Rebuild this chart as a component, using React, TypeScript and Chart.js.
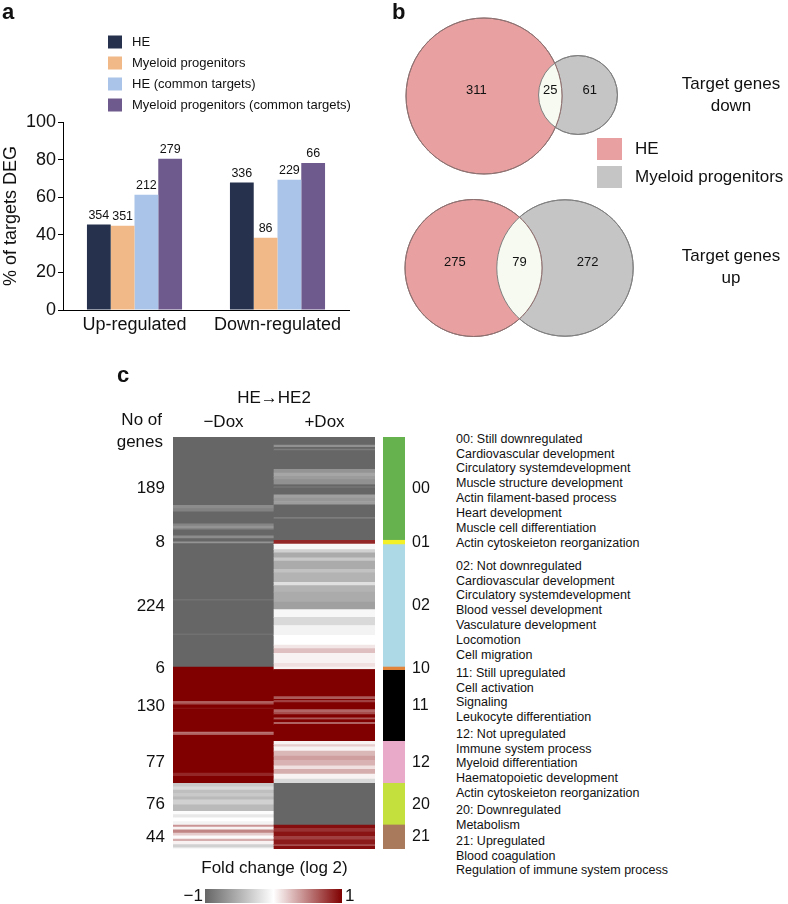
import React, { useEffect, useRef } from 'react';
import { Chart, registerables } from 'chart.js';
Chart.register(...registerables);

const FONT = '"Liberation Sans", Arial, Helvetica, sans-serif';
Chart.defaults.font.family = FONT;
Chart.defaults.color = '#111';

// ---------- Panel a data ----------
const BAR_CATEGORIES = ['Up-regulated', 'Down-regulated'];
const BAR_SERIES = ['HE', 'Myeloid progenitors', 'HE (common targets)', 'Myeloid progenitors (common targets)'];
const PCT_HE = [45.5, 67.8];
const PCT_MYELOID = [44.8, 38.4];
const PCT_HE_COMMON = [61.3, 69.3];
const PCT_MYELOID_COMMON = [80.5, 78.2];
const N_HE = [354, 336];
const N_MYELOID = [351, 86];
const N_HE_COMMON = [212, 229];
const N_MYELOID_COMMON = [279, 66];
const BAR_COLORS = ['#26324D', '#F0B987', '#AAC3E8', '#6E5A8C'];

// ---------- Panel b data ----------
const VENN_SETS = ['HE', 'Myeloid progenitors'];
const VENN_TITLES = [['Target genes', 'down'], ['Target genes', 'up']];
const VENN_HE_ONLY = [311, 275];
const VENN_COMMON = [25, 79];
const VENN_MYELOID_ONLY = [61, 272];
// layout (chart units) for the two diagrams
const VENN_HE_CENTER = [[94, 96], [83.5, 268]];
const VENN_MY_CENTER = [[188, 95], [175, 268]];
const VENN_RADIUS_SCALE = [4.255, 3.641];
const VENN_COLORS = ['#E8A0A0', '#C5C5C5'];
const VENN_EDGES = ['#8E7070', '#808080'];
const VENN_LENS = '#F6FAF1';

// ---------- Panel c data ----------
const CONDITIONS = ['−Dox', '+Dox'];
const CLUSTER_IDS = ['00', '01', '02', '10', '11', '12', '20', '21'];
const CLUSTER_SIZES = [189, 8, 224, 6, 130, 77, 76, 44];
const CLUSTER_COLORS = ['#66B24F', '#F3F027', '#ADD8E6', '#E2843A', '#000000', '#E9A9C9', '#C3E03C', '#A97B5C'];
// [number of genes, log2 fold change] runs, per cluster
const MINUS_DOX_RUNS: [number, number][][] = [
  [[125, -1], [6, -0.75], [6, -0.82], [22, -1], [4, -0.8], [4, -0.7], [3, -0.8], [11, -1], [5, -0.75], [3, -1]],
  [[3, -1], [3, -0.7], [2, -1]],
  [[100, -1], [3, -0.92], [60, -1], [3, -0.93], [58, -1]],
  [[6, 1]],
  [[57, 1], [3, 0.6], [3, 0.7], [6, 1], [2, 0.9], [42, 1], [3, 0.55], [3, 0.65], [11, 1]],
  [[58, 1], [6, 0.85], [13, 1]],
  [[6, -0.35], [6, -0.25], [6, -0.42], [6, -0.35], [6, -0.45], [9, -0.3], [12, -0.45], [6, -0.02], [6, -0.15], [7, 0], [6, -0.08]],
  [[4, 0.42], [5, 0.05], [6, 0.48], [5, 0.2], [6, 0.02], [4, 0.32], [6, 0.05], [6, -0.3], [2, -0.05]],
];
const PLUS_DOX_RUNS: [number, number][][] = [
  [[15, -1], [4, -0.72], [3, -1], [3, -0.85], [34, -1], [7, -0.7], [6, -0.58], [6, -0.65], [9, -0.72], [4, -1], [2, -0.85], [13, -1], [6, -0.62], [6, -0.68], [6, -0.64], [23, -1], [3, -0.85], [39, -1]],
  [[7, 0.85], [1, 0]],
  [[9, -0.05], [6, -0.3], [9, -0.55], [6, -0.35], [15, -0.55], [6, -0.4], [18, -0.5], [6, -0.2], [12, -0.5], [18, -0.55], [14, -0.62], [14, -0.05], [15, -0.25], [18, -0.08], [18, 0], [6, 0.1], [9, 0.25], [18, 0.05], [7, 0.12]],
  [[4, 0.05], [2, 0.9]],
  [[48, 1], [5, 0.65], [2, 1], [4, 0.75], [13, 1], [5, 0.6], [4, 0.7], [6, 1], [3, 0.65], [5, 1], [4, 0.62], [31, 1]],
  [[6, 0.05], [4, 0.2], [8, 0.05], [9, 0.28], [8, 0.38], [10, 0.3], [6, 0.12], [9, 0.32], [9, 0.05], [8, -0.25]],
  [[76, -1]],
  [[6, 0.95], [6, 0.8], [9, 0.92], [6, 0.75], [9, 0.9], [3, 0.7], [5, 0.95]],
];
const TERM_GROUPS: string[][] = [
  ['00: Still downregulated', 'Cardiovascular development', 'Circulatory systemdevelopment', 'Muscle structure development', 'Actin filament-based process', 'Heart development', 'Muscle cell differentiation', 'Actin cytoskeieton reorganization'],
  ['02: Not downregulated', 'Cardiovascular development', 'Circulatory systemdevelopment', 'Blood vessel development', 'Vasculature development', 'Locomotion', 'Cell migration'],
  ['11: Still upregulated', 'Cell activation', 'Signaling', 'Leukocyte differentiation'],
  ['12: Not upregulated', 'Immune system process', 'Myeloid differentiation', 'Haematopoietic development', 'Actin cytoskeieton reorganization'],
  ['20: Downregulated', 'Metabolism'],
  ['21: Upregulated', 'Blood coagulation', 'Regulation of immune system process'],
];
const TERM_GROUP_TOPS = [439, 566, 673, 734, 810, 841];

const GRAY = [102, 102, 102];
const WHITE = [255, 255, 255];
const RED = [128, 0, 0];
function foldColor(v: number) {
  const t = Math.max(-1, Math.min(1, v));
  const end = t < 0 ? GRAY : RED;
  const a = Math.abs(t);
  const c = WHITE.map((w, i) => Math.round(w + (end[i] - w) * a));
  return `rgb(${c[0]},${c[1]},${c[2]})`;
}

const TOTAL_GENES = CLUSTER_SIZES.reduce((a, b) => a + b, 0);
const CLUSTER_STARTS = CLUSTER_SIZES.map((_, i) => CLUSTER_SIZES.slice(0, i).reduce((a, b) => a + b, 0));
const CLUSTER_MIDS = CLUSTER_SIZES.map((n, i) => CLUSTER_STARTS[i] + n / 2);

export default function App() {
  const barRef = useRef<HTMLCanvasElement>(null);
  const vennRef = useRef<HTMLCanvasElement>(null);
  const heatRef = useRef<HTMLCanvasElement>(null);
  const clusterRef = useRef<HTMLCanvasElement>(null);

  useEffect(() => {
    const charts: Chart[] = [];
    const BAR_VALUES = [PCT_HE, PCT_MYELOID, PCT_HE_COMMON, PCT_MYELOID_COMMON];
    const BAR_COUNTS = [N_HE, N_MYELOID, N_HE_COMMON, N_MYELOID_COMMON];

    // ---------- Panel a ----------
    const barDecor = {
      id: 'barDecor',
      afterDatasetsDraw(chart: any) {
        const ctx = chart.ctx;
        const ca = chart.chartArea;
        ctx.save();
        ctx.font = `12.5px ${FONT}`;
        ctx.fillStyle = '#111';
        ctx.textAlign = 'center';
        ctx.textBaseline = 'bottom';
        chart.data.datasets.forEach((_: any, di: number) => {
          chart.getDatasetMeta(di).data.forEach((el: any, i: number) => {
            ctx.fillText(String(BAR_COUNTS[di][i]), el.x, el.y - 3);
          });
        });
        ctx.font = `13px ${FONT}`;
        ctx.textAlign = 'left';
        ctx.textBaseline = 'middle';
        chart.data.datasets.forEach((ds: any, di: number) => {
          const y = ca.top - 80 + di * 21;
          ctx.fillStyle = ds.backgroundColor;
          ctx.fillRect(ca.left + 45, y - 6.5, 14, 13);
          ctx.fillStyle = '#111';
          ctx.fillText(ds.label, ca.left + 69, y);
        });
        ctx.restore();
      },
    };
    charts.push(new Chart(barRef.current!, {
      type: 'bar',
      data: {
        labels: BAR_CATEGORIES,
        datasets: BAR_SERIES.map((s, i) => ({
          label: s,
          data: BAR_VALUES[i],
          backgroundColor: BAR_COLORS[i],
          borderWidth: 0,
          barPercentage: 1,
          categoryPercentage: 0.665,
        })),
      },
      options: {
        animation: false,
        responsive: false,
        layout: { padding: { top: 122, right: 41, bottom: 0, left: 0 } },
        plugins: { legend: { display: false }, tooltip: { enabled: false } },
        scales: {
          x: {
            grid: { display: false, drawTicks: false },
            border: { display: true, color: '#000', width: 1 },
            ticks: { font: { size: 18 }, color: '#111', padding: 4 },
            afterFit: (s: any) => { s.height = 35; },
          },
          y: {
            min: 0, max: 100,
            ticks: { stepSize: 20, font: { size: 18 }, color: '#111', padding: 2 },
            grid: { display: true, drawOnChartArea: false, drawTicks: true, tickLength: 5, color: '#000' },
            border: { display: true, color: '#000', width: 1 },
            title: { display: true, text: '% of targets DEG', font: { size: 18 }, color: '#111', padding: 0 },
            afterFit: (s: any) => { s.width = 63; },
          },
        },
      },
      plugins: [barDecor],
    } as any));

    // ---------- Panel b ----------
    const vennDecor = {
      id: 'vennDecor',
      afterDatasetsDraw(chart: any) {
        const ctx = chart.ctx;
        const a = chart.getDatasetMeta(0).data;
        const b = chart.getDatasetMeta(1).data;
        ctx.save();
        for (let i = 0; i < a.length; i++) {
          const A = a[i], B = b[i];
          const rA = A.options.radius, rB = B.options.radius;
          ctx.save();
          ctx.beginPath(); ctx.arc(A.x, A.y, rA, 0, Math.PI * 2); ctx.clip();
          ctx.beginPath(); ctx.arc(B.x, B.y, rB, 0, Math.PI * 2);
          ctx.fillStyle = VENN_LENS; ctx.fill();
          ctx.restore();
          ctx.lineWidth = 1;
          ctx.strokeStyle = VENN_EDGES[0];
          ctx.beginPath(); ctx.arc(A.x, A.y, rA, 0, Math.PI * 2); ctx.stroke();
          ctx.strokeStyle = VENN_EDGES[1];
          ctx.beginPath(); ctx.arc(B.x, B.y, rB, 0, Math.PI * 2); ctx.stroke();
          ctx.fillStyle = '#111';
          ctx.font = `13px ${FONT}`;
          ctx.textAlign = 'center';
          ctx.textBaseline = 'middle';
          const ly = A.y - 6;
          ctx.fillText(String(VENN_HE_ONLY[i]), ((A.x - rA) + (B.x - rB)) / 2 + 4, ly);
          ctx.fillText(String(VENN_COMMON[i]), ((B.x - rB) + (A.x + rA)) / 2, ly);
          ctx.fillText(String(VENN_MYELOID_ONLY[i]), ((A.x + rA) + (B.x + rB)) / 2, ly);
          ctx.font = `17px ${FONT}`;
          ctx.fillText(VENN_TITLES[i][0], 341, A.y - 12);
          ctx.fillText(VENN_TITLES[i][1], 341, A.y + 10);
        }
        // legend
        ctx.font = `17px ${FONT}`;
        ctx.textAlign = 'left';
        ctx.textBaseline = 'middle';
        chart.data.datasets.forEach((ds: any, di: number) => {
          const y = 149 + di * 28;
          ctx.fillStyle = ds.backgroundColor;
          ctx.fillRect(207, y - 11, 25, 22);
          ctx.fillStyle = '#111';
          ctx.fillText(ds.label, 245, y);
        });
        ctx.restore();
      },
    };
    charts.push(new Chart(vennRef.current!, {
      type: 'bubble',
      data: {
        datasets: [
          {
            label: VENN_SETS[0],
            data: VENN_HE_CENTER.map((p, i) => ({ x: p[0], y: p[1], r: VENN_RADIUS_SCALE[i] * Math.sqrt(VENN_HE_ONLY[i] + VENN_COMMON[i]) })),
            backgroundColor: VENN_COLORS[0], borderColor: VENN_EDGES[0], borderWidth: 1, clip: false,
          },
          {
            label: VENN_SETS[1],
            data: VENN_MY_CENTER.map((p, i) => ({ x: p[0], y: p[1], r: VENN_RADIUS_SCALE[i] * Math.sqrt(VENN_MYELOID_ONLY[i] + VENN_COMMON[i]) })),
            backgroundColor: VENN_COLORS[1], borderColor: VENN_EDGES[1], borderWidth: 1, clip: false,
          },
        ],
      },
      options: {
        animation: false,
        responsive: false,
        layout: { padding: 0, autoPadding: false },
        plugins: { legend: { display: false }, tooltip: { enabled: false } },
        scales: {
          x: { type: 'linear', min: 0, max: 398, display: false },
          y: { type: 'linear', min: 0, max: 345, reverse: true, display: false },
        },
      },
      plugins: [vennDecor],
    } as any));

    // ---------- Panel c: heatmap ----------
    const heatData: any[] = [];
    [MINUS_DOX_RUNS, PLUS_DOX_RUNS].forEach((runsByCluster, ci) => {
      runsByCluster.forEach((runs, k) => {
        let s = CLUSTER_STARTS[k];
        runs.forEach(([n, v]) => {
          heatData.push({ x: CONDITIONS[ci], y: [s, s + n], v });
          s += n;
        });
      });
    });
    const heatDecor = {
      id: 'heatDecor',
      afterDraw(chart: any) {
        const ctx = chart.ctx;
        const ca = chart.chartArea;
        ctx.save();
        ctx.fillStyle = '#111';
        ctx.font = `17px ${FONT}`;
        ctx.textAlign = 'right';
        ctx.textBaseline = 'middle';
        ctx.fillText('No of', ca.left - 11, ca.top - 17);
        ctx.fillText('genes', ca.left - 10, ca.top + 5);
        // colour key
        const x0 = ca.left + 32, x1 = ca.left + 169;
        const y0 = ca.bottom + 40, h = 14;
        const g = ctx.createLinearGradient(x0, 0, x1, 0);
        g.addColorStop(0, foldColor(-1));
        g.addColorStop(0.5, foldColor(0));
        g.addColorStop(1, foldColor(1));
        ctx.fillStyle = g;
        ctx.fillRect(x0, y0, x1 - x0, h);
        ctx.fillStyle = '#111';
        ctx.textAlign = 'center';
        ctx.fillText('Fold change (log 2)', (x0 + x1) / 2 + 1, ca.bottom + 19);
        ctx.textAlign = 'right';
        ctx.fillText('−1', x0 - 2, y0 + h / 2);
        ctx.textAlign = 'left';
        ctx.fillText('1', x1 + 3, y0 + h / 2);
        ctx.restore();
      },
    };
    charts.push(new Chart(heatRef.current!, {
      type: 'bar',
      data: {
        labels: CONDITIONS,
        datasets: [{
          data: heatData,
          backgroundColor: (c: any) => foldColor(c.raw ? c.raw.v : 0),
          borderWidth: 0,
          barPercentage: 1,
          categoryPercentage: 1,
          grouped: false,
        }],
      },
      options: {
        animation: false,
        responsive: false,
        layout: { padding: { left: 0, right: 0, top: 0, bottom: 55 } },
        plugins: { legend: { display: false }, tooltip: { enabled: false } },
        scales: {
          x: {
            type: 'category',
            position: 'top',
            grid: { display: false, drawTicks: false },
            border: { display: false },
            ticks: { font: { size: 17 }, color: '#111', padding: 4 },
            title: { display: true, text: 'HE→HE2', font: { size: 17 }, color: '#111', padding: { top: 8, bottom: 0 } },
            afterFit: (s: any) => { s.height = 57; },
          },
          y: {
            type: 'linear', reverse: true, min: 0, max: TOTAL_GENES,
            grid: { display: false, drawTicks: false },
            border: { display: false },
            afterBuildTicks: (s: any) => { s.ticks = CLUSTER_MIDS.map((v) => ({ value: v })); },
            ticks: { autoSkip: false, font: { size: 17 }, color: '#111', padding: 8, callback: (_v: any, i: number) => String(CLUSTER_SIZES[i]) },
            afterFit: (s: any) => { s.width = 83; },
          },
        },
      },
      plugins: [heatDecor],
    } as any));

    // ---------- Panel c: cluster colour bar ----------
    charts.push(new Chart(clusterRef.current!, {
      type: 'bar',
      data: {
        labels: ['cluster'],
        datasets: [{
          data: CLUSTER_SIZES.map((n, i) => ({ x: 'cluster', y: [CLUSTER_STARTS[i], CLUSTER_STARTS[i] + n] })),
          backgroundColor: CLUSTER_COLORS,
          borderWidth: 0,
          barPercentage: 1,
          categoryPercentage: 1,
          grouped: false,
        }],
      },
      options: {
        animation: false,
        responsive: false,
        layout: { padding: { left: 8, right: 0, top: 57, bottom: 55 } },
        plugins: { legend: { display: false }, tooltip: { enabled: false } },
        scales: {
          x: { type: 'category', display: false },
          y: {
            type: 'linear', position: 'right', reverse: true, min: 0, max: TOTAL_GENES,
            grid: { display: false, drawTicks: false },
            border: { display: false },
            afterBuildTicks: (s: any) => { s.ticks = CLUSTER_MIDS.map((v) => ({ value: v })); },
            ticks: { autoSkip: false, font: { size: 16 }, color: '#111', padding: 7, callback: (_v: any, i: number) => CLUSTER_IDS[i] },
            afterFit: (s: any) => { s.width = 40; },
          },
        },
      },
    } as any));

    return () => charts.forEach((c) => c.destroy());
  }, []);

  const abs = (l: number, t: number, w: number, h: number): React.CSSProperties => ({ position: 'absolute', left: l, top: t, width: w, height: h });
  const letter: React.CSSProperties = { position: 'absolute', fontWeight: 'bold', fontSize: 22, lineHeight: '22px' };

  return (
    <div style={{ position: 'absolute', left: 0, top: 0, width: 788, height: 904, background: '#fff', fontFamily: FONT, color: '#111', overflow: 'hidden' }}>
      <canvas ref={barRef} width={390} height={345} style={abs(0, 0, 390, 345)} />
      <canvas ref={vennRef} width={398} height={345} style={abs(390, 0, 398, 345)} />
      <canvas ref={heatRef} width={285} height={524} style={abs(90, 380, 285, 524)} />
      <canvas ref={clusterRef} width={70} height={524} style={abs(375, 380, 70, 524)} />
      <div style={{ ...letter, left: 2, top: 1 }}>a</div>
      <div style={{ ...letter, left: 392, top: 1 }}>b</div>
      <div style={{ ...letter, left: 117, top: 364 }}>c</div>
      {TERM_GROUPS.map((g, gi) => (
        <div key={gi} style={{ position: 'absolute', left: 456, top: TERM_GROUP_TOPS[gi] - 7.4, fontSize: 12.5, lineHeight: '14.9px', whiteSpace: 'nowrap' }}>
          {g.map((t, ti) => <div key={ti}>{t}</div>)}
        </div>
      ))}
    </div>
  );
}
